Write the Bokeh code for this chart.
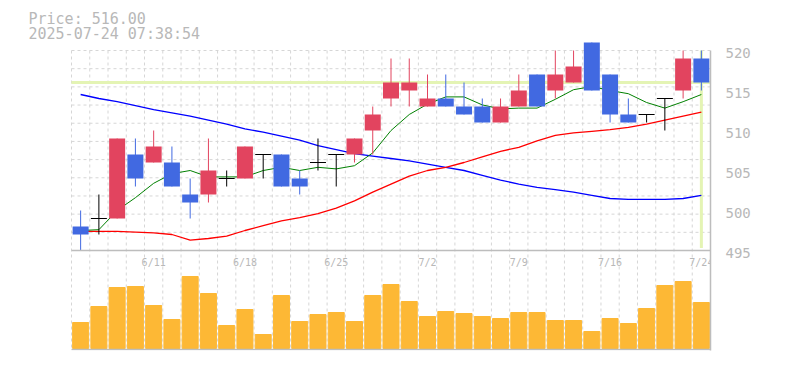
from bokeh.plotting import figure
from bokeh.models import Range1d, FixedTicker, Label
from bokeh.core.properties import value
from bokeh.embed import file_html
from bokeh.resources import INLINE

# ---------------- data ----------------
dates = ["6/5", "6/6", "6/9", "6/10", "6/11", "6/12", "6/13", "6/16", "6/17", "6/18",
         "6/19", "6/20", "6/23", "6/24", "6/25", "6/26", "6/27", "6/30", "7/1", "7/2",
         "7/3", "7/4", "7/7", "7/8", "7/9", "7/10", "7/11", "7/14", "7/15", "7/16",
         "7/17", "7/18", "7/22", "7/23", "7/24"]
tick_dates = ["6/11", "6/18", "6/25", "7/2", "7/9", "7/16", "7/24"]

open_ = [498, 499, 499, 507, 506, 506, 502, 502, 504, 504, 507, 507, 504, 506, 507, 507, 510, 514,
         515, 513, 514, 513, 513, 511, 513, 517, 515, 516, 521, 517, 512, 512, 514, 515, 519]
close = [497, 499, 509, 504, 508, 503, 501, 505, 504, 508, 507, 503, 503, 506, 507, 509, 512, 516,
         516, 514, 513, 512, 511, 513, 515, 513, 517, 518, 515, 512, 511, 512, 514, 519, 516]
high = [500, 502, 509, 509, 510, 508, 504, 509, 505, 508, 507, 507, 505, 509, 507, 509, 513, 519,
        519, 517, 517, 516, 514, 514, 517, 517, 520, 520, 521, 517, 514, 512, 514, 520, 520]
low = [495, 497, 499, 503, 506, 503, 499, 501, 503, 504, 504, 503, 502, 505, 503, 506, 507, 513,
       513, 513, 513, 512, 511, 511, 513, 513, 514, 516, 515, 511, 511, 511, 510, 514, 515]

ma_short = [497.5, 497.6, 500.0, 501.6, 503.4, 504.6, 505.0, 504.2, 504.2, 504.2, 505.0, 505.4,
            505.0, 505.4, 505.2, 505.6, 507.2, 510.0, 512.0, 513.3, 514.2, 514.2, 513.2, 512.7,
            512.8, 512.8, 513.9, 515.1, 515.5, 515.0, 514.6, 513.5, 512.8, 513.6, 514.5]
ma_mid = [497.4, 497.4, 497.4, 497.3, 497.2, 497.0, 496.3, 496.5, 496.8, 497.5, 498.1, 498.7,
          499.1, 499.6, 500.3, 501.2, 502.3, 503.3, 504.3, 505.0, 505.4, 506.0, 506.7, 507.4,
          507.9, 508.7, 509.4, 509.7, 509.9, 510.1, 510.4, 510.8, 511.3, 511.8, 512.3]
ma_long = [514.5, 514.0, 513.6, 513.1, 512.6, 512.2, 511.8, 511.3, 510.8, 510.2, 509.8, 509.3,
           508.8, 508.1, 507.6, 507.1, 506.8, 506.5, 506.2, 505.8, 505.4, 505.0, 504.4, 503.8,
           503.3, 502.9, 502.6, 502.3, 501.9, 501.5, 501.4, 501.4, 501.4, 501.5, 501.9]

volume = [26, 42, 61, 62, 43, 29, 72, 55, 23, 39, 14, 53, 27, 34, 36, 27, 53, 64, 47, 32,
          37, 35, 32, 30, 36, 36, 28, 28, 17, 30, 25, 40, 63, 67, 46]

price_ticks = [495, 500, 505, 510, 515, 520]
last_price = 516.00
timestamp = "2025-07-24 07:38:54"

# ---------------- styles / layout ----------------
UP = "#e2445f"
DOWN = "#4169e1"
DOJI = "#000000"
VOL = "#fdb835"
GRID = "#d6d6d6"
AXIS = "#bdbdbd"
TEXT = "#b8b8b8"
CROSS = "#e4f4b4"
MONO = "DejaVu Sans Mono"

n = len(dates)
xs = list(range(n))
P_LO, P_HI = 495, 520           # price panel (y 50..250 px)
PX_PER_SLOT = 639 / n           # slot width in px
PX_PER_YEN = 8.0
X0 = -0.5 - 71 / PX_PER_SLOT    # frame starts at the canvas' left edge
Y_TOP = P_HI + 50 / PX_PER_YEN  # frame starts at the canvas' top edge
Y_BOT = P_LO - 100 / PX_PER_YEN # frame ends at the volume panel's bottom
BODY_W = 16 / PX_PER_SLOT
TICK_SHIFT = 2.5 / PX_PER_YEN   # axis labels sit a little below their gridline

p = figure(width=777, height=362, output_backend="svg", toolbar_location=None,
           x_range=Range1d(X0, n - 0.5), y_range=Range1d(Y_BOT, Y_TOP),
           x_axis_location=None, y_axis_location="right",
           min_border_left=0, min_border_right=67, min_border_top=0, min_border_bottom=12,
           background_fill_color="white", border_fill_color="white")
p.outline_line_color = None
p.xgrid.visible = False
p.ygrid.visible = False
p.extra_y_ranges = {"vol": Range1d(-2, 348)}

# dashed grid of the price panel (11 rows) and the day columns
gy = [P_LO + k * (P_HI - P_LO) / 11 for k in range(1, 12)]
p.segment(x0=[-0.5] * len(gy), y0=gy, x1=[n - 0.5] * len(gy), y1=gy,
          line_color=GRID, line_dash="3 3", line_width=1)
gx = [k - 0.5 for k in range(n)]
p.segment(x0=gx, y0=[P_HI] * n, x1=gx, y1=[Y_BOT] * n,
          line_color=GRID, line_dash="3 3", line_width=1)

# right price axis
ax = p.yaxis[0]
ax.ticker = FixedTicker(ticks=[t - TICK_SHIFT for t in price_ticks])
ax.major_label_overrides = {t - TICK_SHIFT: str(t) for t in price_ticks}
ax.bounds = (Y_BOT, P_HI)
ax.axis_line_color = AXIS
ax.axis_line_width = 1.5
ax.major_tick_line_color = None
ax.minor_tick_line_color = None
ax.major_label_text_font = MONO
ax.major_label_text_font_size = "14px"
ax.major_label_text_color = TEXT
ax.major_label_standoff = 9

# volume bars
p.vbar(x=xs, top=volume, bottom=0, width=BODY_W, color=VOL, y_range_name="vol")

# crosshair on the last price
p.segment(x0=[-0.5], y0=[last_price], x1=[n - 0.5], y1=[last_price], line_color=CROSS, line_width=3)
p.segment(x0=[n - 1], y0=[P_LO + 0.3], x1=[n - 1], y1=[P_HI], line_color=CROSS, line_width=3)

# moving averages
p.line(xs, ma_long, line_color="#0000ff", line_width=1.3)
p.line(xs, ma_mid, line_color="#ff0000", line_width=1.3)
p.line(xs, ma_short, line_color="#008000", line_width=1)

# candles
colors = [UP if c > o else (DOWN if c < o else DOJI) for o, c in zip(open_, close)]
p.segment(x0=xs, y0=low, x1=xs, y1=high, line_color=colors, line_width=1)
bx = [i for i in xs if open_[i] != close[i]]
p.vbar(x=bx, top=[max(open_[i], close[i]) for i in bx], bottom=[min(open_[i], close[i]) for i in bx],
       width=BODY_W, fill_color=[colors[i] for i in bx], line_color=None)
dx = [i for i in xs if open_[i] == close[i]]
p.segment(x0=[i - BODY_W / 2 for i in dx], y0=[open_[i] for i in dx],
          x1=[i + BODY_W / 2 for i in dx], y1=[open_[i] for i in dx],
          line_color=DOJI, line_width=1.2)

# panel bottom lines
p.segment(x0=[-0.5], y0=[P_LO], x1=[n - 0.5], y1=[P_LO], line_color=AXIS, line_width=1.5)
p.segment(x0=[-0.5], y0=[-1], x1=[n - 0.5], y1=[-1], line_color=AXIS, line_width=1.5,
          y_range_name="vol")

# date labels
tx = [dates.index(d) for d in tick_dates]
p.text(x=tx, y=[P_LO - 11.7 / PX_PER_YEN] * len(tx), text=tick_dates, text_align="center",
       text_baseline="alphabetic", text_font=value(MONO), text_font_size="10px", text_color=TEXT)

# header
p.add_layout(Label(x=28, y=331.5, x_units="screen", y_units="screen", text=f"Price: {last_price:.2f}",
                   text_font=MONO, text_font_size="15px", text_color=TEXT, text_baseline="alphabetic"))
p.add_layout(Label(x=28, y=316.2, x_units="screen", y_units="screen", text=timestamp,
                   text_font=MONO, text_font_size="15px", text_color=TEXT, text_baseline="alphabetic"))

open("out.html", "w").write(file_html(p, INLINE))
